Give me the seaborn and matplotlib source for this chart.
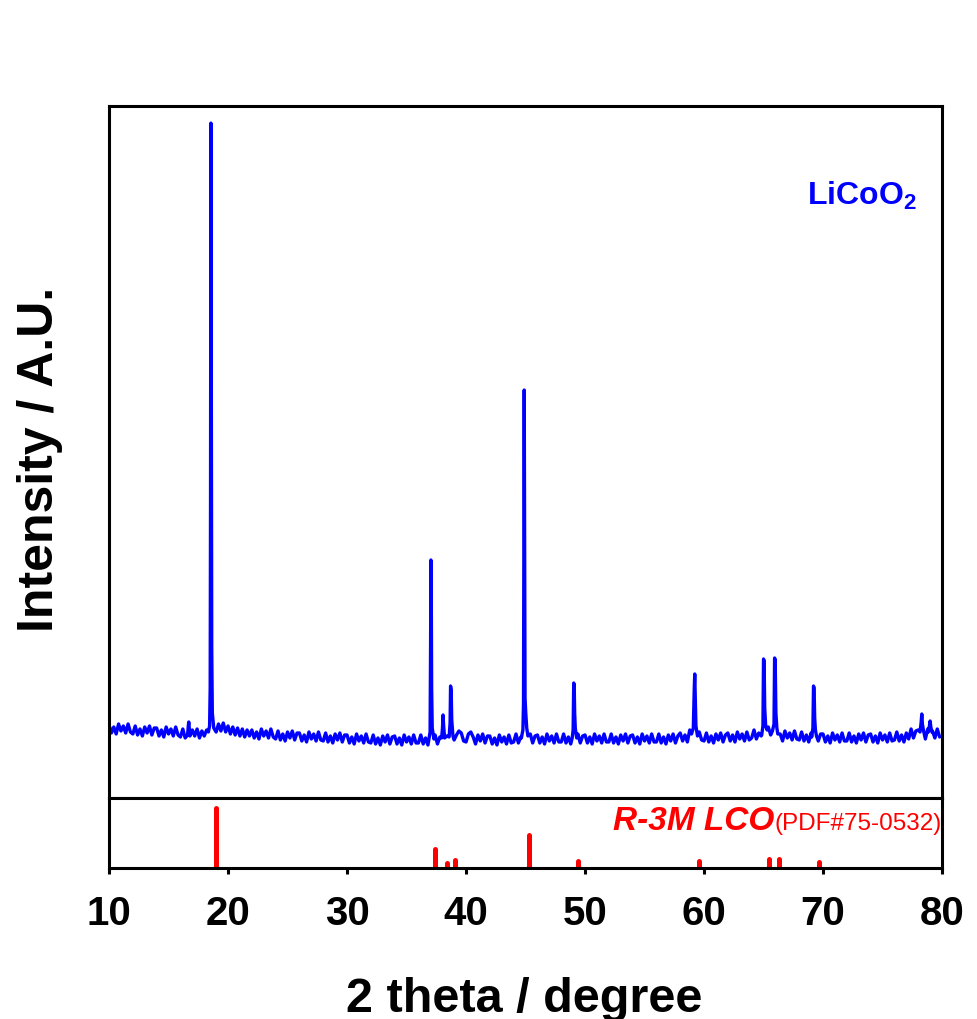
import numpy as np
import pandas as pd
import matplotlib
matplotlib.use('Agg')
import matplotlib.pyplot as plt
import seaborn as sns

# ---------------- data ----------------
two_theta_start = 10.0
two_theta_step = 0.2
baseline_intensity = [
    73, 65, 71, 64, 74, 67, 72, 65, 74, 66,   # 10.0-11.8
    64, 72, 63, 69, 62, 71, 65, 72, 63, 70,   # 12
    70, 62, 68, 61, 71, 64, 69, 62, 71, 63,   # 14
    61, 69, 60, 66, 59, 68, 62, 69, 60, 67,   # 16
    62, 68, 65, 66, 72, 66, 74, 67, 75, 66,   # 18
    72, 64, 71, 63, 70, 62, 69, 61, 68, 62,   # 20
    68, 60, 66, 59, 69, 62, 67, 60, 69, 61,   # 22
    59, 67, 58, 64, 57, 66, 60, 67, 58, 65,   # 24
    65, 57, 63, 56, 66, 59, 64, 57, 66, 58,   # 26
    57, 65, 56, 62, 55, 64, 58, 65, 56, 63,   # 28
    63, 55, 61, 54, 64, 57, 62, 55, 64, 56,   # 30
    55, 63, 54, 60, 53, 62, 56, 63, 54, 61,   # 32
    62, 54, 60, 53, 63, 56, 61, 54, 63, 55,   # 34
    55, 63, 54, 60, 53, 62, 56, 63, 54, 61,   # 36
    64, 56, 62, 55, 65, 58, 63, 67, 65, 57,   # 38
    56, 64, 66, 61, 54, 63, 57, 64, 55, 62,   # 40
    62, 54, 60, 53, 63, 56, 61, 54, 63, 55,   # 42
    56, 64, 55, 61, 54, 63, 57, 64, 55, 62,   # 44
    63, 55, 61, 54, 64, 57, 62, 55, 64, 56,   # 46
    56, 64, 55, 61, 54, 63, 57, 64, 55, 62,   # 48
    63, 55, 61, 54, 64, 57, 62, 55, 64, 56,   # 50
    56, 64, 55, 61, 54, 63, 57, 64, 55, 62,   # 52
    63, 55, 61, 54, 64, 57, 62, 55, 64, 56,   # 54
    56, 64, 55, 61, 54, 63, 57, 64, 55, 62,   # 56
    65, 57, 63, 56, 68, 64, 64, 57, 66, 58,   # 58
    57, 65, 56, 62, 55, 64, 58, 65, 56, 63,   # 60
    65, 57, 63, 56, 66, 59, 64, 57, 66, 58,   # 62
    60, 68, 59, 65, 62, 70, 64, 71, 63, 70,   # 64
    66, 58, 64, 57, 67, 60, 65, 58, 67, 59,   # 66
    58, 66, 57, 63, 56, 65, 59, 66, 57, 64,   # 68
    64, 56, 62, 55, 65, 58, 63, 56, 65, 57,   # 70
    57, 65, 56, 62, 55, 64, 58, 65, 56, 63,   # 72
    64, 56, 62, 55, 65, 58, 63, 56, 65, 57,   # 74
    58, 66, 57, 63, 56, 65, 59, 69, 60, 67,   # 76
    68, 60, 66, 59, 69, 62, 67, 60, 69, 61,   # 78
]

# sharp reflections of the measured pattern: (2theta points, intensity points)
peak_profiles = [
    ([16.6, 16.66, 16.7, 16.74, 16.8], [63, 72, 76, 70, 62]),
    ([18.35, 18.45, 18.5, 18.53, 18.56, 18.6, 18.63, 18.68, 18.8],
     [66, 72, 110, 300, 675, 400, 150, 85, 70]),
    ([36.9, 36.98, 37.02, 37.05, 37.08, 37.11, 37.16, 37.3],
     [60, 66, 150, 238, 200, 110, 70, 59]),
    ([37.95, 38.02, 38.07, 38.12, 38.2], [60, 70, 83, 72, 60]),
    ([38.58, 38.66, 38.7, 38.75, 38.8, 38.9], [61, 75, 112, 108, 78, 62]),
    ([44.65, 44.78, 44.83, 44.86, 44.89, 44.93, 44.96, 45.02, 45.1, 45.2],
     [60, 68, 95, 250, 408, 250, 100, 85, 70, 62]),
    ([48.92, 49.0, 49.05, 49.09, 49.13, 49.18, 49.3], [60, 68, 115, 113, 85, 70, 60]),
    ([58.95, 59.1, 59.18, 59.22, 59.27, 59.32, 59.45], [64, 70, 110, 124, 100, 72, 62]),
    ([64.85, 64.95, 65.0, 65.05, 65.1, 65.18, 65.3], [63, 72, 139, 137, 90, 72, 68]),
    ([65.75, 65.88, 65.93, 65.98, 66.04, 66.12, 66.2], [67, 74, 140, 138, 85, 70, 64]),
    ([69.05, 69.15, 69.2, 69.25, 69.3, 69.36, 69.45], [61, 70, 112, 110, 80, 68, 62]),
    ([78.15, 78.24, 78.3, 78.35, 78.45], [66, 75, 84, 74, 67]),
    ([78.85, 78.94, 79.0, 79.06, 79.15], [66, 72, 77, 71, 66]),
]

ref_positions = [18.95, 37.4, 38.4, 39.1, 45.3, 49.45, 59.6, 65.45, 66.3, 69.7]
ref_intensity = [100, 32, 8, 13, 55, 12, 12, 15, 15, 10]

x_ticks = [10, 20, 30, 40, 50, 60, 70, 80]
sample_label = 'LiCoO$_\\mathbf{2}$'
ref_label_main = 'R-3M LCO'
ref_label_card = '(PDF#75-0532)'
x_label = '2 theta / degree'
y_label = 'Intensity / A.U.'

# ---------------- build table ----------------
grid = np.round(two_theta_start + two_theta_step * np.arange(len(baseline_intensity)), 2)
base = np.array(baseline_intensity, dtype=float)
keep = np.ones(len(grid), dtype=bool)
for tt, _ in peak_profiles:
    keep &= ~((grid >= min(tt) - 1e-6) & (grid <= max(tt) + 1e-6))
frames = [pd.DataFrame({'two_theta': grid[keep], 'intensity': base[keep]})]
for tt, ii in peak_profiles:
    frames.append(pd.DataFrame({'two_theta': tt, 'intensity': ii}))
pattern = pd.concat(frames, ignore_index=True).sort_values('two_theta').reset_index(drop=True)

# ---------------- style ----------------
sns.set_style('ticks')
plt.rcParams['font.family'] = ['Liberation Sans', 'DejaVu Sans']
plt.rcParams['mathtext.fontset'] = 'custom'
plt.rcParams['mathtext.rm'] = 'Liberation Sans'
plt.rcParams['mathtext.bf'] = 'Liberation Sans:bold'
plt.rcParams['mathtext.it'] = 'Liberation Sans:italic'
plt.rcParams['text.color'] = 'black'
plt.rcParams['xtick.color'] = 'black'
plt.rcParams['xtick.labelcolor'] = 'black'

fig = plt.figure(figsize=(9.77, 10.19), dpi=100)
fig.patch.set_facecolor('white')
L, W = 0.1116, 0.8526
ax_top = fig.add_axes([L, 0.2169, W, 0.679])
ax_bot = fig.add_axes([L, 0.1482, W, 0.0687])

sns.lineplot(data=pattern, x='two_theta', y='intensity', ax=ax_top,
             color='#0000FF', lw=2.4, estimator=None, sort=True)
ax_top.set_xlim(10, 80)
ax_top.set_ylim(0, 692)
ax_top.set_xticks([])
ax_top.set_yticks([])
ax_top.set_xlabel('')
ax_top.set_ylabel('')

ax_bot.vlines(ref_positions, 0, ref_intensity, colors='#FF0000', lw=3.6, capstyle='round')
ax_bot.set_xlim(10, 80)
ax_bot.set_ylim(0, 116.7)
ax_bot.set_yticks([])
ax_bot.set_xticks(x_ticks)
ax_bot.set_xticklabels([str(t) for t in x_ticks], fontsize=29, fontweight='bold', color='black')
ax_bot.tick_params(axis='x', direction='out', length=4.5, width=2.2, pad=15, color='black')

for ax in (ax_top, ax_bot):
    for s in ax.spines.values():
        s.set_visible(True)
        s.set_linewidth(2.2)
        s.set_color('black')
    ax.set_facecolor('white')

# texts
fig.text(0.9386, 0.7988, sample_label, color='#0000FF', fontsize=23,
         fontweight='bold', ha='right', va='baseline')
t2 = fig.text(0.9642, 0.1855, ref_label_card, color='#FF0000', fontsize=17.5,
              ha='right', va='baseline')
fig.canvas.draw()
bb = t2.get_window_extent(fig.canvas.get_renderer())
x0 = fig.transFigure.inverted().transform((bb.x0, bb.y0))[0]
fig.text(x0, 0.1855, ref_label_main, color='#FF0000', fontsize=24,
         fontweight='bold', fontstyle='italic', ha='right', va='baseline')

fig.text(0.537, 0.0069, x_label, fontsize=35, fontweight='bold', ha='center',
         va='baseline', color='black')
fig.text(0.041, 0.5496, y_label, fontsize=36, fontweight='bold', rotation=90,
         ha='center', va='center', color='black')

fig.savefig('out.png', dpi=100, facecolor='white')
